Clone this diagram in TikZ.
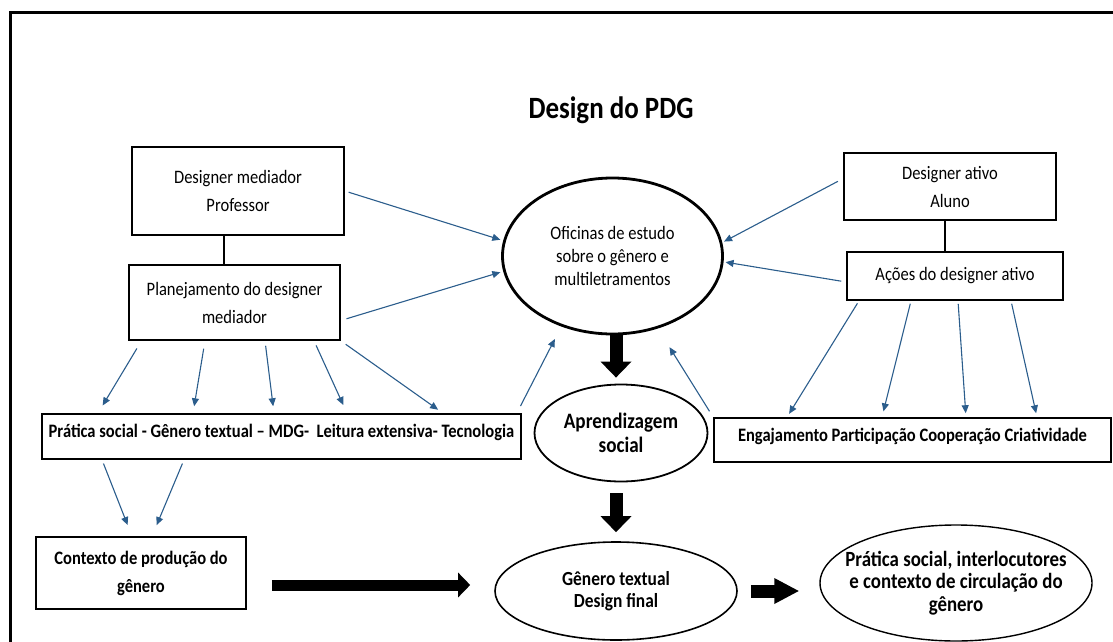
\documentclass[tikz,border=0pt]{standalone}
\usepackage{fontspec}
\setmainfont{Carlito}[FakeStretch=0.87]
\usetikzlibrary{arrows.meta,shapes.geometric}
\definecolor{setaazul}{RGB}{43,93,140}

\begin{document}
\begin{tikzpicture}[x=1pt,y=-1pt,
    caixa/.style={draw,line width=1.6pt,align=center,inner sep=0pt,font=\fontsize{19}{28}\selectfont},
    caixab/.style={caixa,font=\bfseries\fontsize{19}{28}\selectfont},
    elipse/.style={draw,ellipse,line width=1.6pt,align=center,inner sep=0pt},
    azul/.style={-{Triangle[length=8pt,width=7pt]},setaazul,line width=1.1pt},
    grossa/.style={-{Triangle[length=16pt,width=30pt]},line width=13pt}]
  \useasboundingbox (0,0) rectangle (1113,642);
  % moldura
  \draw[line width=3pt] (10,642) -- (10,13) -- (1113,13);
  \node[font=\bfseries\fontsize{31}{36}\selectfont,anchor=base] (titulo) at (611,118) {Design do PDG};

  % caixas
  \node[caixa,minimum width=212pt,minimum height=88pt] (dm) at (238,191) {Designer mediador\\Professor};
  \node[caixa,minimum width=211pt,minimum height=75pt] (pd) at (234.5,302.5) {Planejamento do designer\\mediador};
  \node[caixa,minimum width=212pt,minimum height=67pt] (da) at (950,186.5) {Designer ativo\\Aluno};
  \node[caixa,minimum width=216pt,minimum height=48pt] (ad) at (955,276) {Ações do designer ativo};
  \node[caixab,minimum width=479pt,minimum height=45pt,text height=13pt,text depth=11pt] (ps) at (281.5,436.5)
    {Prática social - Gênero textual – MDG-~ Leitura extensiva- Tecnologia};
  \node[caixab,minimum width=397pt,minimum height=44pt,text height=13pt,text depth=11pt] (ep) at (912.5,440)
    {Engajamento Participação Cooperação Criatividade};
  \node[caixab,minimum width=210pt,minimum height=72pt] (cp) at (141,573) {Contexto de produção do\\gênero};

  % elipses
  \node[elipse,line width=2.8pt,font=\fontsize{19}{23}\selectfont,minimum width=220pt,minimum height=156pt] (of) at (612.5,256)
    {Oficinas de estudo\\sobre o gênero e\\multiletramentos};
  \node[elipse,line width=1.8pt,font=\bfseries\fontsize{22}{24}\selectfont,minimum width=173pt,minimum height=97pt] (ap) at (621,433)
    {Aprendizagem\\social};
  \node[elipse,font=\bfseries\fontsize{20}{22}\selectfont,minimum width=242pt,minimum height=98pt] (gt) at (616,591)
    {Gênero textual\\Design final};
  \node[elipse,line width=1.4pt,font=\bfseries\fontsize{21.7}{22.5}\selectfont,inner xsep=-25pt,minimum width=272pt,minimum height=116pt] (pf) at (956,583)
    {Prática social, interlocutores\\e contexto de circulação do\\gênero};

  % ligacoes
  \draw[line width=1.2pt] ([xshift=-14pt]dm.south) -- ([xshift=-10.5pt]pd.north);
  \draw[line width=1.2pt] ([xshift=-5pt]da.south) -- ([xshift=-10pt]ad.north);

  \draw[azul,shorten <=4pt,shorten >=3pt] (dm.east) -- (of.172);
  \draw[azul,shorten <=6pt,shorten >=3pt] ([yshift=-18pt]pd.east) -- (of.188);
  \draw[azul,shorten <=6pt,shorten >=2pt] ([yshift=8pt]da.west) -- (of.7);
  \draw[azul,shorten <=5pt,shorten >=2pt] ([yshift=-6pt]ad.west) -- (of.357);

  \draw[azul,shorten <=9pt,shorten >=9pt] ([xshift=-93pt]pd.south) -- ([xshift=-183.5pt]ps.north);
  \draw[azul,shorten <=8pt,shorten >=7pt] ([xshift=-29.5pt]pd.south) -- ([xshift=-88.5pt]ps.north);
  \draw[azul,shorten <=5pt,shorten >=7pt] ([xshift=30.5pt]pd.south) -- ([xshift=-7.5pt]ps.north);
  \draw[azul,shorten <=5pt,shorten >=9pt] ([xshift=79.5pt]pd.south) -- ([xshift=65.5pt]ps.north);
  \draw[azul,shorten <=6pt,shorten >=6pt] (pd.south east) -- ([xshift=161.5pt]ps.north);

  \draw[azul,shorten <=8pt,shorten >=14pt] ([xshift=-5pt]ps.north east) -- (of.234);
  \draw[azul,shorten <=7pt,shorten >=22pt] (ep.north west) -- (of.302);

  \draw[azul,shorten <=3pt,shorten >=4pt] ([xshift=-96pt]ad.south) -- ([xshift=-125.5pt]ep.north);
  \draw[azul,shorten <=3pt,shorten >=6pt] ([xshift=-44pt]ad.south) -- ([xshift=-30.5pt]ep.north);
  \draw[azul,shorten <=3pt,shorten >=4pt] ([xshift=3pt]ad.south) -- ([xshift=53.5pt]ep.north);
  \draw[azul,shorten <=3pt,shorten >=4pt] ([xshift=56pt]ad.south) -- ([xshift=124.5pt]ep.north);

  \draw[azul,shorten <=4pt,shorten >=12pt] ([xshift=-179.5pt]ps.south) -- ([xshift=-9pt]cp.north);
  \draw[azul,shorten <=4pt,shorten >=12pt] ([xshift=-97.5pt]ps.south) -- ([xshift=11pt]cp.north);

  % setas grossas
  \draw[grossa,shorten >=6pt] ([xshift=3.5pt]of.south) -- ([xshift=-5pt]ap.north);
  \draw[grossa,shorten <=11pt,shorten >=9pt] ([xshift=-5pt]ap.south) -- (gt.north);
  \draw[grossa,line width=11pt,-{Triangle[length=12pt,width=24pt]},shorten <=25pt,shorten >=24pt]
    ([yshift=-12pt]cp.east) -- ([yshift=-12pt]cp.east -| gt.west);
  \draw[grossa,-{Triangle[length=25pt,width=24pt]},shorten <=13pt,shorten >=20pt] (gt.east) -- (gt.east -| pf.west);
\end{tikzpicture}
\end{document}
